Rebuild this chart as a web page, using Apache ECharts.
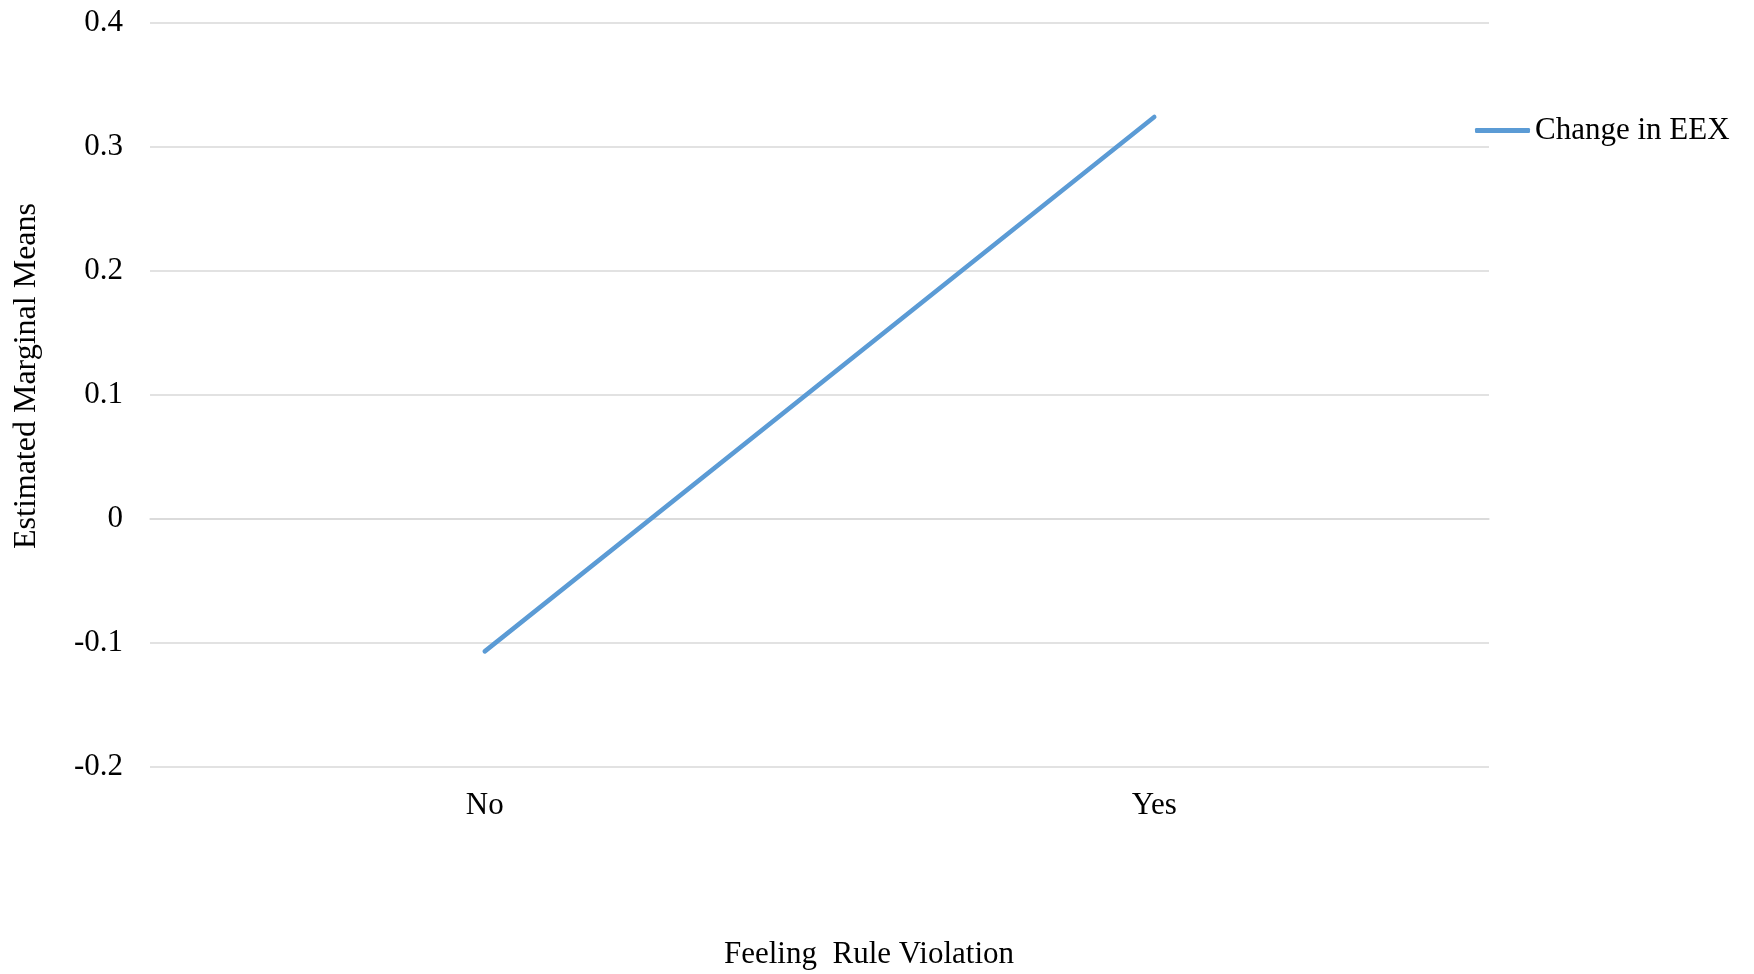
<!DOCTYPE html>
<html>
<head>
<meta charset="utf-8">
<script src="https://cdn.jsdelivr.net/npm/echarts@6/dist/echarts.min.js"></script>
<style>
  html, body { margin: 0; padding: 0; background: #fff; }
  #chart { width: 1754px; height: 974px; }
</style>
</head>
<body>
<div id="chart"></div>
<script>
// Estimated marginal means of change in EEX by feeling rule violation
const categories = ['No', 'Yes'];
const eexChange = [-0.107, 0.324];
const seriesName = 'Change in EEX';
const xTitle = 'Feeling  Rule Violation';
const yTitle = 'Estimated Marginal Means';

const serif = '"Liberation Serif", "DejaVu Serif", serif';
const chart = echarts.init(document.getElementById('chart'));

chart.setOption({
  backgroundColor: '#ffffff',
  animation: false,
  grid: { left: 150, right: 265, top: 22.7, bottom: 207.3, containLabel: false },
  legend: {
    data: [{ name: seriesName, icon: 'roundRect' }],
    left: 1470,
    top: 110,
    itemWidth: 55,
    itemHeight: 5,
    itemGap: 5,
    itemStyle: { color: '#5b9bd5', borderWidth: 0 },
    lineStyle: { width: 0 },
    textStyle: { fontFamily: serif, fontSize: 31, color: '#000' }
  },
  xAxis: {
    type: 'category',
    data: categories,
    boundaryGap: true,
    axisLine: { show: true, lineStyle: { color: '#d9d9d9', width: 1.5 } },
    axisTick: { show: false },
    axisLabel: { fontFamily: serif, fontSize: 31, color: '#000', margin: 24 }
  },
  yAxis: {
    type: 'value',
    min: -0.2,
    max: 0.4,
    interval: 0.1,
    axisLine: { show: false },
    axisTick: { show: false },
    splitLine: { lineStyle: { color: '#d9d9d9', width: 1.5 } },
    axisLabel: {
      fontFamily: serif, fontSize: 31, color: '#000', margin: 27,
      formatter: v => {
        const r = Math.round(v * 10) / 10;
        return r === 0 ? '0' : r.toFixed(1);
      }
    }
  },
  // Axis titles placed independently of the plot area centre
  graphic: [
    {
      type: 'text',
      x: 869, y: 955,
      style: {
        text: xTitle, fontFamily: serif, fontSize: 31, fill: '#000',
        align: 'center', verticalAlign: 'middle'
      }
    },
    {
      type: 'text',
      x: 27, y: 376,
      rotation: Math.PI / 2,
      style: {
        text: yTitle, fontFamily: serif, fontSize: 32, fill: '#000',
        align: 'center', verticalAlign: 'middle'
      }
    }
  ],
  series: [{
    name: seriesName,
    type: 'line',
    data: eexChange,
    symbol: 'none',
    lineStyle: { color: '#5b9bd5', width: 4.5, cap: 'round' },
    itemStyle: { color: '#5b9bd5' }
  }]
});
</script>
</body>
</html>
